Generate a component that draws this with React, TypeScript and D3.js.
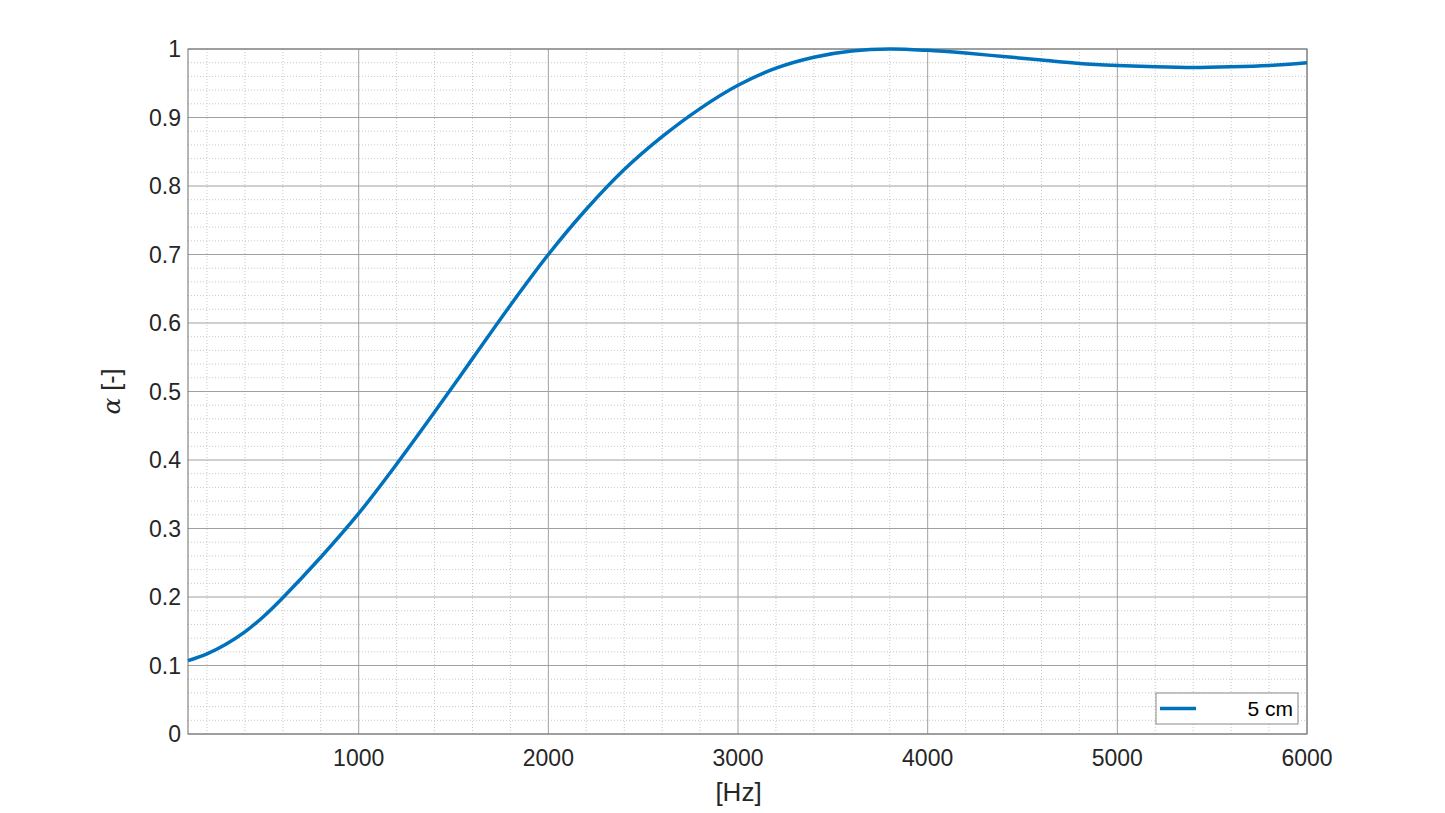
import * as d3 from "d3";

const freqs = [100, 200, 300, 400, 500, 600, 800, 1000, 1200, 1400, 1600, 1800, 2000, 2200, 2400, 2600, 2800, 3000, 3200, 3400, 3600, 3800, 4000, 4200, 4400, 4600, 4800, 5000, 5200, 5400, 5600, 5800, 6000];
const alpha = [0.107, 0.117, 0.131, 0.149, 0.172, 0.199, 0.258, 0.322, 0.394, 0.47, 0.548, 0.626, 0.7, 0.766, 0.824, 0.872, 0.913, 0.947, 0.972, 0.988, 0.997, 1.0, 0.998, 0.994, 0.989, 0.984, 0.979, 0.976, 0.974, 0.973, 0.974, 0.976, 0.98];
const xTicks = [1000, 2000, 3000, 4000, 5000, 6000];
const yTicks = [0, 0.1, 0.2, 0.3, 0.4, 0.5, 0.6, 0.7, 0.8, 0.9, 1];
const legendLabel = "5 cm";

const W = 1445, H = 813;
const m = { left: 188, right: 1307, top: 49, bottom: 734 };

export default function App() {
  const x = d3.scaleLinear().domain([100, 6000]).range([m.left, m.right]);
  const y = d3.scaleLinear().domain([0, 1]).range([m.bottom, m.top]);
  const minorX = d3.range(200, 6000, 200).filter((v) => v % 1000 !== 0);
  const minorY = d3.range(0, 1.0001, 0.02).filter((v) => Math.abs(v * 10 - Math.round(v * 10)) > 1e-6);
  const line = d3.line<number>().x((_, i) => x(freqs[i])).y((v) => y(v)).curve(d3.curveCatmullRom.alpha(0.5));
  const font = "'Liberation Sans', Arial, sans-serif";

  return (
    <svg width={W} height={H} style={{ position: "absolute", left: 0, top: 0, background: "#fff" }}>
      <rect x={m.left} y={m.top} width={m.right - m.left} height={m.bottom - m.top} fill="#fff" />
      {minorX.map((v) => (
        <line key={"mx" + v} x1={x(v)} x2={x(v)} y1={m.top} y2={m.bottom} stroke="#c8c8c8" strokeWidth={1} strokeDasharray="1,2" />
      ))}
      {minorY.map((v) => (
        <line key={"my" + v} x1={m.left} x2={m.right} y1={y(v)} y2={y(v)} stroke="#c8c8c8" strokeWidth={1} strokeDasharray="1,2" />
      ))}
      {xTicks.map((v) => (
        <line key={"gx" + v} x1={x(v)} x2={x(v)} y1={m.top} y2={m.bottom} stroke="#a0a0a0" strokeWidth={1} />
      ))}
      {yTicks.map((v) => (
        <line key={"gy" + v} x1={m.left} x2={m.right} y1={y(v)} y2={y(v)} stroke="#a0a0a0" strokeWidth={1} />
      ))}
      <rect x={m.left} y={m.top} width={m.right - m.left} height={m.bottom - m.top} fill="none" stroke="#6e6e6e" strokeWidth={1} />
      {xTicks.map((v) => (
        <text key={"tx" + v} x={x(v)} y={m.bottom + 32} textAnchor="middle" fontFamily={font} fontSize={23} fill="#262626">{v}</text>
      ))}
      {yTicks.map((v) => (
        <text key={"ty" + v} x={m.left - 7} y={y(v) + 8} textAnchor="end" fontFamily={font} fontSize={23} fill="#262626">{v}</text>
      ))}
      <text x={(m.left + m.right) / 2 - 9} y={801} textAnchor="middle" fontFamily={font} fontSize={26} fill="#262626">[Hz]</text>
      <text transform={`translate(120, ${(m.top + m.bottom) / 2}) rotate(-90)`} textAnchor="middle" fontSize={25} fill="#262626">
        <tspan fontFamily="'DejaVu Serif', serif" fontStyle="italic">α</tspan>
        <tspan fontFamily={font}> [-]</tspan>
      </text>
      <path d={line(alpha) ?? ""} fill="none" stroke="#0072BD" strokeWidth={3.5} />
      <g>
        <rect x={1156} y={693} width={142} height={31} fill="#fff" stroke="#8a8a8a" strokeWidth={1} />
        <line x1={1160} x2={1196} y1={708.5} y2={708.5} stroke="#0072BD" strokeWidth={3.5} />
        <text x={1293} y={716} textAnchor="end" fontFamily={font} fontSize={21} fill="#000">{legendLabel}</text>
      </g>
    </svg>
  );
}
